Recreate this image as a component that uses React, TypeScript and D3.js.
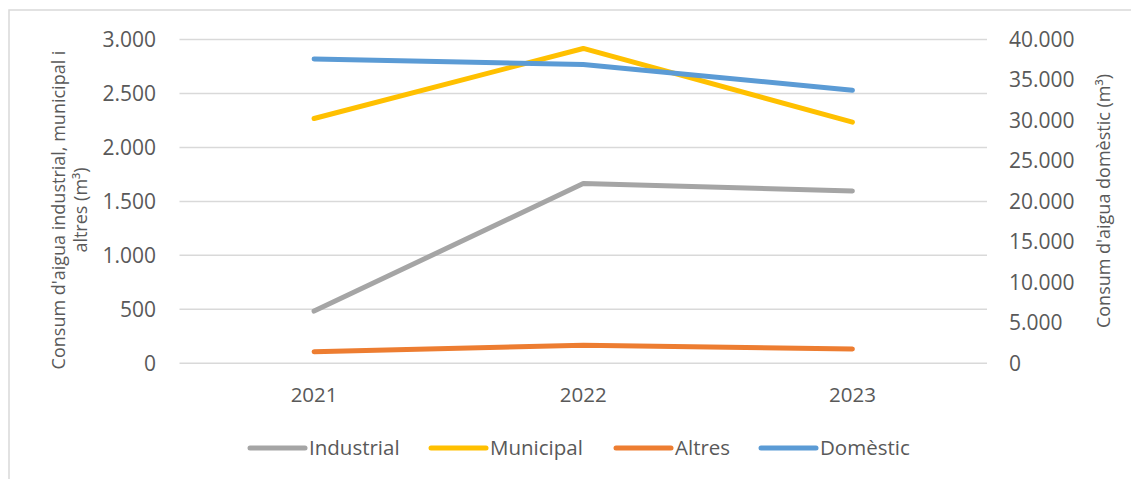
import * as d3 from 'd3'

const YEARS = ['2021', '2022', '2023']
const INDUSTRIAL = [484, 1665, 1596]
const MUNICIPAL = [2268, 2917, 2234]
const ALTRES = [107, 167, 132]
const DOMESTIC = [37600, 36900, 33740]

const LEFT_TICKS = [0, 500, 1000, 1500, 2000, 2500, 3000]
const RIGHT_TICKS = [0, 5000, 10000, 15000, 20000, 25000, 30000, 35000, 40000]

const SERIES = [
  { name: 'Industrial', values: INDUSTRIAL, color: '#A5A5A5', axis: 'left' },
  { name: 'Municipal', values: MUNICIPAL, color: '#FFC000', axis: 'left' },
  { name: 'Altres', values: ALTRES, color: '#ED7D31', axis: 'left' },
  { name: 'Domèstic', values: DOMESTIC, color: '#5B9BD5', axis: 'right' }
]

const W = 1131
const H = 479
const PLOT = { left: 179.5, right: 987, top: 39.5, bottom: 363.3 }
const FONT = "'Open Sans', sans-serif"
const TEXT = '#595959'
const GRID = '#d9d9d9'

// legend swatch start positions (left edge of each line sample)
const LEGEND_X = [250, 431, 616, 761]

const fmt = (v: number) => d3.format(',')(v).replace(/,/g, '.')

export default function App() {
  const x = d3.scalePoint<string>()
    .domain(YEARS)
    .range([PLOT.left, PLOT.right])
    .padding(0.5)

  const yLeft = d3.scaleLinear().domain([0, 3000]).range([PLOT.bottom, PLOT.top])
  const yRight = d3.scaleLinear().domain([0, 40000]).range([PLOT.bottom, PLOT.top])

  const makeLine = (axis: string) =>
    d3.line<number>()
      .x((_, i) => x(YEARS[i]) as number)
      .y(d => (axis === 'left' ? yLeft(d) : yRight(d)))

  return (
    <div style={{ position: 'absolute', left: 0, top: 0 }}>
      <svg width={W} height={H} style={{ display: 'block', background: '#fff' }}>
        {/* chart border */}
        <rect x={9} y={10} width={W + 20} height={H + 20} fill="none" stroke={GRID} strokeWidth={1.5} />

        {/* Grid lines */}
        {LEFT_TICKS.map(t => (
          <line key={`g-${t}`} x1={PLOT.left} x2={PLOT.right} y1={yLeft(t)} y2={yLeft(t)}
            stroke={GRID} strokeWidth={1.5} />
        ))}

        {/* Left axis labels */}
        {LEFT_TICKS.map(t => (
          <text key={`l-${t}`} x={156} y={yLeft(t)} dy="0.35em" textAnchor="end"
            fontFamily={FONT} fontSize={21} fill={TEXT}>{fmt(t)}</text>
        ))}

        {/* Right axis labels */}
        {RIGHT_TICKS.map(t => (
          <text key={`r-${t}`} x={1009} y={yRight(t)} dy="0.35em" textAnchor="start"
            fontFamily={FONT} fontSize={21} fill={TEXT}>{fmt(t)}</text>
        ))}

        {/* X axis labels */}
        {YEARS.map(y => (
          <text key={y} x={x(y)} y={402} textAnchor="middle"
            fontFamily={FONT} fontSize={20.5} fill={TEXT}>{y}</text>
        ))}

        {/* Axis titles */}
        <text transform="translate(65,210) rotate(-90)" textAnchor="middle"
          fontFamily={FONT} fontSize={18} fill={TEXT}>Consum d'aigua industrial, municipal i</text>
        <text transform="translate(87,210) rotate(-90)" textAnchor="middle"
          fontFamily={FONT} fontSize={18} fill={TEXT}>altres (m³)</text>
        <text transform="translate(1110,201) rotate(-90)" textAnchor="middle"
          fontFamily={FONT} fontSize={18} fill={TEXT}>Consum d'aigua domèstic (m³)</text>

        {/* Lines */}
        {SERIES.map(s => (
          <path key={s.name} d={makeLine(s.axis)(s.values) || ''} fill="none"
            stroke={s.color} strokeWidth={5} strokeLinecap="round" strokeLinejoin="round" />
        ))}

        {/* Legend */}
        {SERIES.map((s, i) => (
          <g key={`leg-${s.name}`}>
            <line x1={LEGEND_X[i]} x2={LEGEND_X[i] + 55} y1={448} y2={448}
              stroke={s.color} strokeWidth={5} strokeLinecap="round" />
            <text x={LEGEND_X[i] + 59} y={448} dy="0.35em" fontFamily={FONT} fontSize={20.5}
              fill={TEXT}>{s.name}</text>
          </g>
        ))}
      </svg>
    </div>
  )
}
